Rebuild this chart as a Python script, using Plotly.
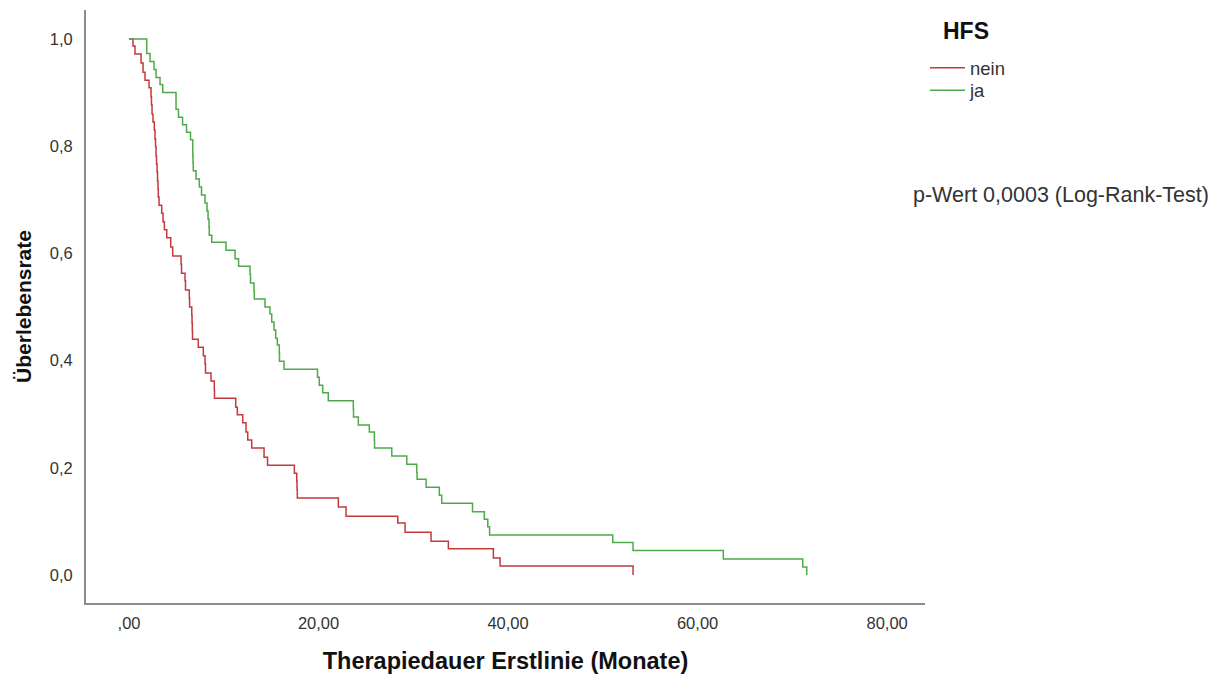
import plotly.graph_objects as go

# Kaplan-Meier step data (time in months, survival after step)
nein_time = [0, 0.42, 0.63, 1.27, 1.48, 1.69, 2.11, 2.32, 2.37, 2.43, 2.53, 2.67, 2.74, 2.80,
             2.85, 2.90, 2.96, 3.01, 3.06, 3.09, 3.17, 3.45, 3.59, 3.73, 3.98, 4.40, 4.61,
             5.49, 5.54, 5.91, 5.96, 6.36, 6.39, 6.62, 6.65, 6.68, 6.70, 7.31, 7.84, 8.02,
             8.07, 8.65, 9.00, 9.02, 11.26, 11.43, 12.00, 12.35, 12.53, 12.95, 14.25, 14.62,
             17.45, 17.70, 17.73, 17.76, 22.09, 22.90, 28.36, 29.13, 31.87, 33.70, 38.45,
             39.16, 53.19]
nein_surv = [1.0, 0.987, 0.972, 0.955, 0.938, 0.923, 0.909, 0.892, 0.877, 0.860, 0.845, 0.830,
             0.813, 0.799, 0.782, 0.767, 0.752, 0.735, 0.720, 0.705, 0.690, 0.675, 0.659, 0.644,
             0.629, 0.612, 0.595, 0.580, 0.563, 0.549, 0.532, 0.517, 0.500, 0.485, 0.470, 0.455,
             0.440, 0.425, 0.409, 0.394, 0.377, 0.362, 0.345, 0.330, 0.313, 0.299, 0.284, 0.267,
             0.252, 0.237, 0.220, 0.205, 0.190, 0.175, 0.159, 0.144, 0.127, 0.110, 0.097, 0.080,
             0.063, 0.049, 0.032, 0.017, 0.0]

ja_time = [0, 1.87, 2.22, 2.64, 2.85, 3.27, 3.56, 4.96, 5.22, 5.65, 6.07, 6.49, 6.72, 6.73,
           6.75, 6.78, 7.07, 7.42, 7.65, 8.02, 8.23, 8.34, 8.44, 8.47, 8.73, 10.24, 11.19,
           11.56, 12.77, 12.82, 13.19, 13.22, 14.35, 14.88, 15.06, 15.30, 15.48, 15.65, 15.86,
           15.88, 16.36, 19.89, 20.08, 20.44, 21.03, 23.67, 23.69, 24.20, 25.36, 25.89, 25.91,
           27.73, 29.31, 30.36, 30.40, 31.35, 32.75, 33.00, 36.25, 37.50, 37.86, 38.05, 51.05,
           53.19, 62.72, 71.10, 71.52]
ja_surv = [1.0, 0.973, 0.958, 0.943, 0.928, 0.915, 0.900, 0.869, 0.854, 0.840, 0.826, 0.812,
           0.797, 0.782, 0.769, 0.754, 0.739, 0.724, 0.709, 0.694, 0.679, 0.664, 0.649, 0.634,
           0.621, 0.606, 0.590, 0.576, 0.561, 0.545, 0.530, 0.515, 0.500, 0.487, 0.472, 0.457,
           0.442, 0.429, 0.414, 0.399, 0.384, 0.369, 0.354, 0.340, 0.325, 0.310, 0.295, 0.280,
           0.267, 0.252, 0.237, 0.222, 0.207, 0.192, 0.179, 0.164, 0.149, 0.134, 0.118, 0.104,
           0.090, 0.075, 0.061, 0.046, 0.030, 0.015, 0.0]

x_tickvals = [0, 20, 40, 60, 80]
x_ticktext = [",00", "20,00", "40,00", "60,00", "80,00"]
y_tickvals = [0.0, 0.2, 0.4, 0.6, 0.8, 1.0]
y_ticktext = ["0,0", "0,2", "0,4", "0,6", "0,8", "1,0"]

RED = "#c4393b"
GREEN = "#4fa94a"
FONT = "Liberation Sans, Arial, sans-serif"

fig = go.Figure()
fig.add_trace(go.Scatter(x=nein_time, y=nein_surv, mode="lines", name="nein", legend="legend",
                         line=dict(shape="hv", color=RED, width=1.5)))
fig.add_trace(go.Scatter(x=ja_time, y=ja_surv, mode="lines", name="ja", legend="legend2",
                         line=dict(shape="hv", color=GREEN, width=1.5)))

# legend title
fig.add_annotation(x=1.0489, y=0.9646, xref="paper", yref="paper", xanchor="center",
                   yanchor="middle", text="<b>HFS</b>", showarrow=False,
                   font=dict(family=FONT, size=23, color="#111111"))

fig.add_annotation(x=1.0, y=0.688, xref="x domain", yref="y domain", xanchor="left",
                   yanchor="middle", xshift=-14, text="p-Wert 0,0003 (Log-Rank-Test)",
                   showarrow=False, font=dict(family=FONT, size=21.5, color="#333333"))

legend_common = dict(x=1.0, xref="paper", yref="paper", xanchor="left", yanchor="top",
                     font=dict(family=FONT, size=18.5, color="#333333"),
                     itemwidth=35, bgcolor="rgba(0,0,0,0)", borderwidth=0)

fig.update_layout(
    width=1227, height=680,
    margin=dict(l=86, r=302, t=10, b=77, autoexpand=False),
    paper_bgcolor="white", plot_bgcolor="white",
    font=dict(family=FONT, size=15, color="#222222"),
    showlegend=True,
    legend=dict(y=0.934, **legend_common),
    legend2=dict(y=0.896, **legend_common),
    xaxis=dict(range=[-4.54, 84.0], tickvals=x_tickvals, ticktext=x_ticktext,
               showgrid=False, zeroline=False, showline=True, linecolor="#8c8c8c", linewidth=2,
               ticks="", ticklabelstandoff=4, tickfont=dict(size=16.5, color="#333333"),
               title=dict(text="<b>Therapiedauer Erstlinie (Monate)</b>", standoff=22,
                          font=dict(family=FONT, size=23.5, color="#111111"))),
    yaxis=dict(range=[-0.052, 1.054], tickvals=y_tickvals, ticktext=y_ticktext,
               showgrid=False, zeroline=False, showline=True, linecolor="#8c8c8c", linewidth=2,
               ticks="", ticklabelstandoff=8, tickfont=dict(size=16.5, color="#333333"),
               title=dict(text="<b>Überlebensrate</b>", standoff=12,
                          font=dict(family=FONT, size=21, color="#111111"))),
)

fig.write_html("out.html")
